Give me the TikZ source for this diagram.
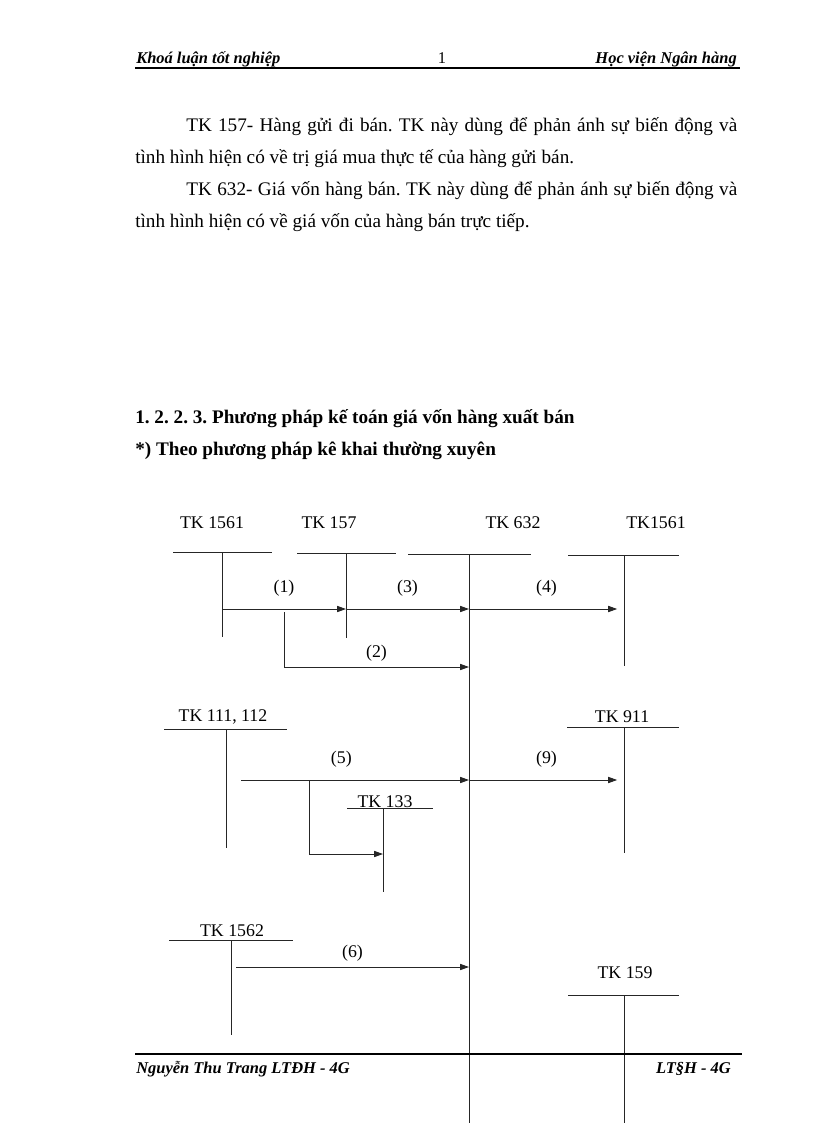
\documentclass[tikz,border=0pt]{standalone}
\usepackage{fontspec}
\setmainfont{Liberation Serif}
\usetikzlibrary{arrows.meta}
\frenchspacing
\tikzset{
  acc/.style={font=\fontsize{13}{15}\selectfont, inner sep=0pt},
  tl/.style={line width=0.65pt, draw=black!85},
  arr/.style={tl, -{Triangle[length=6.5pt,width=4.5pt]}},
  num/.style={font=\fontsize{13}{15}\selectfont, midway, yshift=15pt},
  body/.style={font=\fontsize{14}{16}\selectfont, inner sep=0pt, anchor=base west},
  hd/.style={font=\fontsize{12}{14}\selectfont\bfseries\itshape, inner sep=0pt}
}
\begin{document}
\begin{tikzpicture}[x=0.7292pt,y=-0.7292pt]
\useasboundingbox (0,0) rectangle (816,1123);
\node[hd, anchor=base west] (hl) at (136,64) {Khoá luận tốt nghiệp};
\node[font=\fontsize{12}{14}\selectfont, inner sep=0pt, anchor=base] (pg) at (442,64) {1};
\node[hd, anchor=base east] (hr) at (737,64) {Học viện Ngân hàng};
\draw[line width=1.5pt] (135,68) -- (740,68);
\node[body] (ln1) at (186,132) {\makebox[401.8pt][s]{TK 157- Hàng gửi đi bán. TK này dùng để phản ánh sự biến động và}};
\node[body] (ln2) at (135,164) {tình hình hiện có về trị giá mua thực tế của hàng gửi bán.};
\node[body] (ln3) at (186,196) {\makebox[401.8pt][s]{TK 632- Giá vốn hàng bán. TK này dùng để phản ánh sự biến động và}};
\node[body] (ln4) at (135,228) {tình hình hiện có về giá vốn của hàng bán trực tiếp.};
\node[body, font=\fontsize{14}{16}\selectfont\bfseries] (h1) at (135,423) {1. 2. 2. 3. Phương pháp kế toán giá vốn hàng xuất bán};
\node[body, font=\fontsize{14}{16}\selectfont\bfseries] (h2) at (135,455) {*) Theo phương pháp kê khai thường xuyên};
\foreach \n/\t/\lx/\ly/\xa/\xb/\yb/\xs/\ye in {
  1561/TK 1561/212/523/173/272/552/222/637,
  157/TK 157/329/523/297/396/553/346/638,
  632/TK 632/513/523/408/531/554/469/1123,
  1561r/TK1561/656/523/568/679/555/624/666,
  111/{TK 111, 112}/223/717/164/287/729/226/848,
  133/TK 133/385/802/347/433/808/383/892,
  911/TK 911/622/717/567/679/727/624/853,
  1562/TK 1562/232/931/169/293/940/231/1035,
  159/TK 159/625/973/568/679/995/624/1123}
{
  \node[acc] (l\n) at (\lx,\ly) {\t};
  \draw[tl] (\xa,\yb) -- (\xb,\yb);
  \draw[tl] (\xs,\yb) coordinate (t\n) -- (\xs,\ye) coordinate (b\n);
}
\coordinate (r1) at (0,609);
\coordinate (r2) at (0,667);
\coordinate (r5) at (0,780);
\coordinate (r6) at (0,854);
\coordinate (r7) at (0,967);
\coordinate (s2) at (284,612);
\coordinate (s5) at (241,780);
\coordinate (s8) at (309,780);
\coordinate (s6) at (236,967);
\draw[arr] (t1561 |- r1) -- node[num]{(1)} (t157 |- r1);
\draw[arr] (t157 |- r1) -- node[num]{(3)} (t632 |- r1);
\draw[arr, shorten >=5pt] (t632 |- r1) -- node[num]{(4)} (t1561r |- r1);
\draw[arr] (s2) -- (s2 |- r2) -- node[num, yshift=-5pt]{(2)} (t632 |- r2);
\draw[arr] (s5) -- node[num, pos=0.44]{(5)} (t632 |- r5);
\draw[arr, shorten >=5pt] (t632 |- r5) -- node[num]{(9)} (t911 |- r5);
\draw[arr] (s8) -- (s8 |- r6) -- (t133 |- r6);
\draw[arr] (s6) -- node[num, yshift=-5pt]{(6)} (t632 |- r7);
\draw[line width=1.5pt] (135,1054) -- (742,1054);
\node[hd, anchor=base west] (fl) at (136,1073) {Nguyễn Thu Trang LTĐH - 4G};
\node[hd, anchor=base east] (fr) at (731,1073) {LT§H - 4G};
\end{tikzpicture}
\end{document}
